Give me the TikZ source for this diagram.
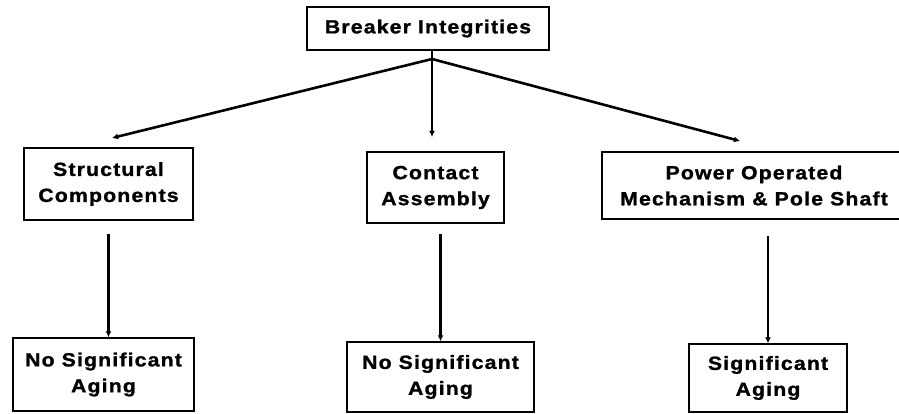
\documentclass[tikz,border=0pt]{standalone}
\usepackage{fontspec}
\setmainfont{Liberation Sans}[FakeStretch=1.12,LetterSpace=6,FakeBold=1.2,BoldFont={Liberation Sans Bold}]
\usetikzlibrary{arrows.meta}
\begin{document}
\begin{tikzpicture}[x=1pt,y=-1pt,
  box/.style={draw,line width=1.5pt,align=center,inner sep=0pt,
    font=\fontsize{19}{26}\selectfont\bfseries},
  arr/.style={line width=2.6pt,-{Latex[length=6pt,width=6pt]}}]
\clip (0,0) rectangle (899,414);
\fill[white] (0,0) rectangle (899,414);
\node[box,minimum width=242pt,minimum height=43pt] (top) at (428,28.5) {Breaker Integrities};
\node[box,minimum width=169pt,minimum height=72pt] (struct) at (108.5,184) {Structural\\Components};
\node[box,minimum width=137pt,minimum height=71pt] (contact) at (435.5,187.5) {Contact\\Assembly};
\node[box,minimum width=316pt,minimum height=67pt] (power) at (760,185.5) {\hspace*{-12pt}Power Operated\\\hspace*{-12pt}Mechanism \& Pole Shaft};
\node[box,minimum width=181pt,minimum height=73pt] (bl) at (103.5,374.5) {No Significant\\Aging};
\node[box,minimum width=187pt,minimum height=70pt] (bm) at (440.5,377) {No Significant\\Aging};
\node[box,minimum width=158pt,minimum height=68pt] (br) at (768,378) {Significant\\Aging};
\coordinate (apex) at (432,59);
\coordinate (t1) at (112,138);
\coordinate (t2) at (432,137);
\coordinate (t3) at (740,141);
\draw[line width=2.6pt] (top.south -| apex) -- (apex);
\draw[arr] (apex) -- (t1);
\draw[arr] (apex) -- (t2);
\draw[arr] (apex) -- (t3);
\draw[arr,shorten <=13pt] (struct.south) -- (struct.south |- bl.north);
\draw[arr,shorten <=10pt] (bm.north |- contact.south) -- (bm.north);
\draw[arr,shorten <=16pt] (br.north |- power.south) -- (br.north);
\end{tikzpicture}
\end{document}
